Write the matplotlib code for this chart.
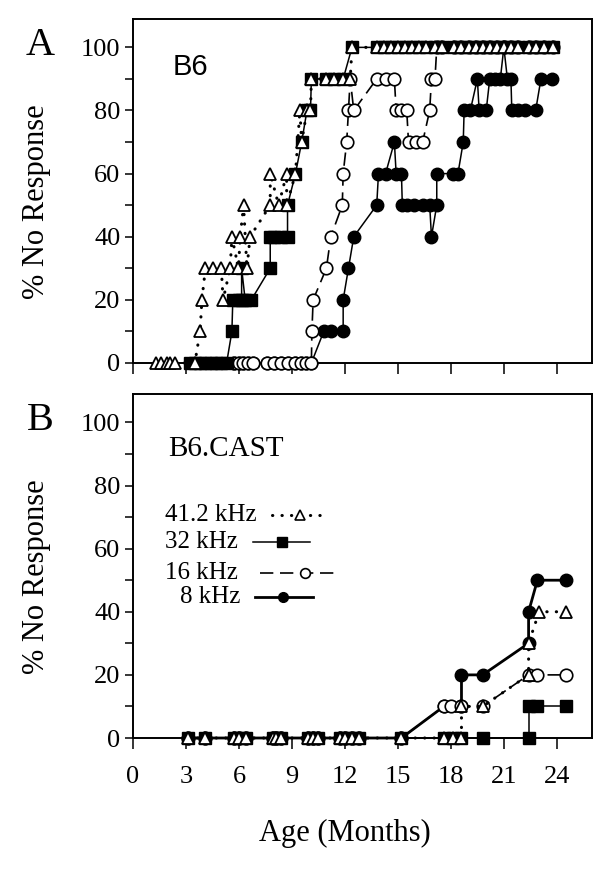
import matplotlib
matplotlib.use("Agg")
import matplotlib.pyplot as plt

plt.rcParams['font.family'] = ['Liberation Serif', 'DejaVu Serif']

# ---- panel A (B6) ----
top_x = [13.8, 14.2, 14.6, 15.0, 15.4, 15.8, 16.2, 16.6, 17.1, 17.5, 18.2, 18.6,
         19.0, 19.4, 19.8, 20.2, 20.6, 21.0, 21.4, 21.8, 22.4, 22.8, 23.3, 23.8]

a41_x = [1.3, 1.6, 1.9, 2.1, 2.4, 3.5, 3.8, 3.9, 4.1, 4.55, 5.0, 5.1,
         5.5, 5.6, 5.97, 6.07, 6.26, 6.45, 6.63, 7.77, 7.77, 8.25, 8.7, 8.7, 9.2,
         9.45, 9.55, 9.85, 10.05, 10.1, 10.9, 11.4, 11.9, 12.3, 12.4] + top_x
a41_y = [0, 0, 0, 0, 0, 0, 10, 20, 30, 30, 30, 20,
         30, 40, 30, 40, 50, 30, 40, 50, 60, 50, 60, 50, 60,
         80, 70, 80, 80, 90, 90, 90, 90, 90, 100] + [100] * len(top_x)

a32_x = [3.2, 3.5, 3.8, 4.1, 4.4, 4.7, 5.0, 5.3, 5.6, 5.65, 6.0, 6.15, 6.15, 6.35,
         6.7, 7.77, 7.77, 8.0, 8.4, 8.75, 8.75, 9.2, 9.55, 9.85, 10.05, 10.1,
         10.9, 11.4, 11.9, 12.4] + top_x
a32_y = [0, 0, 0, 0, 0, 0, 0, 0, 10, 20, 20, 20, 30, 20,
         20, 30, 40, 40, 40, 40, 50, 60, 70, 80, 80, 90,
         90, 90, 90, 100] + [100] * len(top_x)

a16_x = [5.7, 6.0, 6.25, 6.5, 6.8, 7.6, 8.0, 8.4, 8.8, 9.2, 9.5, 9.8, 10.1,
         10.13, 10.2, 10.95, 11.2, 11.85, 11.9, 12.1, 12.2, 12.3, 12.5, 13.8, 14.3,
         14.8, 14.9, 15.2, 15.5, 15.6, 16.0, 16.4, 16.8, 16.9, 17.1, 17.2] + top_x[9:]
a16_y = [0] * 13 + [10, 20, 30, 40, 50, 60, 70, 80, 90, 80, 90, 90,
                    90, 80, 80, 80, 70, 70, 70, 80, 90, 90, 100] + [100] * len(top_x[9:])

a8_x = [5.7, 6.0, 6.25, 6.5, 6.8, 7.6, 8.0, 8.4, 8.8, 9.2, 9.5, 9.8, 10.1,
        10.8, 11.2, 11.9, 11.9, 12.2, 12.5, 13.8, 13.9, 14.3, 14.8, 14.9, 15.2,
        15.25, 15.5, 15.9, 16.4, 16.8, 16.9, 17.2, 17.2, 18.1, 18.4, 18.7, 18.75,
        19.1, 19.5, 19.6, 20.0, 20.2, 20.5, 20.8, 21.0, 21.2, 21.4, 21.45, 21.8,
        22.2, 22.8, 23.1, 23.7]
a8_y = [0] * 13 + [10, 10, 10, 20, 30, 40, 50, 60, 60, 70, 60, 60,
                   50, 50, 50, 50, 50, 40, 50, 60, 60, 60, 70, 80,
                   80, 90, 80, 80, 90, 90, 90, 100, 90, 90, 80, 80,
                   80, 80, 90, 90]

# ---- panel B (B6.CAST) ----
b_zero = [3.1, 4.1, 5.7, 6.0, 6.4, 7.9, 8.1, 8.4, 9.9, 10.2, 10.5, 11.7, 12.0,
          12.4, 12.8, 15.2]

b41_x = b_zero + [17.6, 18.1, 18.6, 18.6, 19.8, 22.4, 22.4, 23.0, 24.5]
b41_y = [0] * len(b_zero) + [0, 0, 0, 10, 10, 20, 30, 40, 40]

b32_x = b_zero + [17.6, 18.1, 18.6, 19.8, 22.4, 22.4, 22.9, 24.5]
b32_y = [0] * len(b_zero) + [0, 0, 0, 0, 0, 10, 10, 10]

b16_x = b_zero + [17.6, 18.0, 18.6, 19.8, 22.4, 22.9, 24.5]
b16_y = [0] * len(b_zero) + [10, 10, 10, 10, 20, 20, 20]

b8_x = b_zero + [17.6, 18.6, 18.6, 19.8, 22.4, 22.4, 22.9, 24.5]
b8_y = [0] * len(b_zero) + [10, 10, 20, 20, 30, 40, 50, 50]

labels = ["41.2 kHz", "32 kHz", "16 kHz", "8 kHz"]
xticks = [0, 3, 6, 9, 12, 15, 18, 21, 24]

fig = plt.figure(figsize=(6.13, 8.74), dpi=100)
axA = fig.add_axes([0.217, 0.5847, 0.749, 0.3936])
axB = fig.add_axes([0.217, 0.1556, 0.749, 0.3936])

dot = (0, (0.1, 3))
dash = (0, (8, 4))


def draw(ax, s8, s16, s32, s41, lw8):
    ax.plot(s8[0], s8[1], color='black', lw=lw8, marker='o', ms=9,
            mfc='black', mec='black', clip_on=False, zorder=3)
    ax.plot(s16[0], s16[1], color='black', lw=1.2, ls=dash, marker='o', ms=9,
            mfc='white', mec='black', mew=1.2, clip_on=False, zorder=4)
    ax.plot(s32[0], s32[1], color='black', lw=1.1, marker='s', ms=8,
            mfc='black', mec='black', clip_on=False, zorder=5)
    ax.plot(s41[0], s41[1], color='black', lw=2.2, ls=dot, dash_capstyle='round',
            marker='^', ms=9, mfc='white', mec='black', mew=1.3,
            clip_on=False, zorder=6)


draw(axA, (a8_x, a8_y), (a16_x, a16_y), (a32_x, a32_y), (a41_x, a41_y), 1.1)
draw(axB, (b8_x, b8_y), (b16_x, b16_y), (b32_x, b32_y), (b41_x, b41_y), 2.0)

for ax in (axA, axB):
    ax.set_xlim(0, 26)
    ax.set_ylim(0, 109)
    ax.set_xticks(xticks)
    ax.set_yticks([0, 20, 40, 60, 80, 100])
    ax.set_yticks(range(10, 101, 20), minor=True)
    ax.tick_params(axis='both', which='both', direction='out', width=1.1,
                   labelsize=19)
    ax.tick_params(axis='y', which='major', length=6, pad=3)
    ax.tick_params(axis='y', which='minor', length=6)
    ax.tick_params(axis='x', length=8, pad=12)
    for sp in ax.spines.values():
        sp.set_linewidth(1.4)
    ax.set_ylabel("% No Response", fontsize=22)
    ax.yaxis.set_label_coords(-0.178, 0.47)

axA.tick_params(axis='x', labelbottom=False)
axB.set_xlabel("Age (Months)", fontsize=22)
axB.xaxis.set_label_coords(0.462, -0.235)

axA.text(0.087, 0.86, "B6", transform=axA.transAxes, fontsize=21,
         family='Liberation Sans', va='center', ha='left')
axB.text(0.076, 0.84, "B6.CAST", transform=axB.transAxes, fontsize=21,
         va='center', ha='left')

fig.text(0.065, 0.9485, "A", fontsize=29, ha='center', va='center')
fig.text(0.065, 0.519, "B", fontsize=29, ha='center', va='center')

# hand-placed key, as in the original figure
key_y = [0.648, 0.570, 0.480, 0.410]
key_tx = [0.270, 0.229, 0.229, 0.233]
key_x0 = [0.303, 0.261, 0.277, 0.266]
key_xm = [0.364, 0.325, 0.375, 0.327]
key_x1 = [0.407, 0.386, 0.451, 0.392]
key_style = [
    dict(lw=2.2, ls=dot, dash_capstyle='round', marker='^', mfc='white', mew=1.2),
    dict(lw=1.1, marker='s', mfc='black'),
    dict(lw=1.2, ls=dash, marker='o', mfc='white', mew=1.2),
    dict(lw=2.0, marker='o', mfc='black'),
]
for lab, y, tx, x0, xm, x1, st in zip(labels, key_y, key_tx, key_x0, key_xm,
                                      key_x1, key_style):
    axB.text(tx, y, lab, transform=axB.transAxes, fontsize=18, ha='right',
             va='center')
    axB.plot([x0, xm, x1], [y, y, y], transform=axB.transAxes, color='black',
             mec='black', ms=7, markevery=[1], clip_on=False, **st)

fig.savefig("out.png", dpi=100)
